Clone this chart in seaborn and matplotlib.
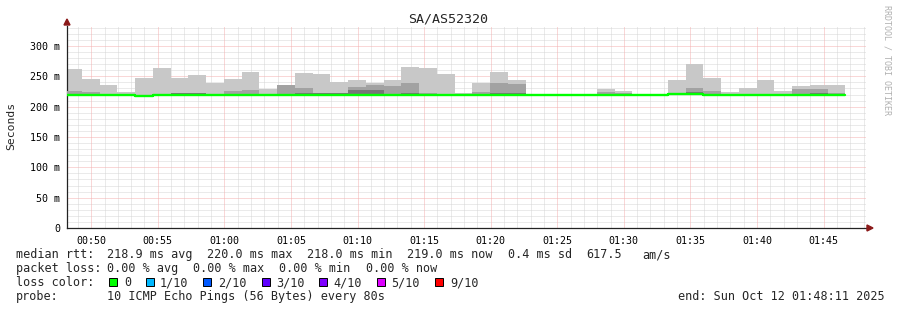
import numpy as np
import pandas as pd
import matplotlib
matplotlib.use("Agg")
import matplotlib.pyplot as plt
from matplotlib.patches import Rectangle
import seaborn as sns

# ---------------- data ----------------
title = "SA/AS52320"
bar_starts = ["00:47:58", "00:49:18", "00:50:38", "00:51:58", "00:53:18", "00:54:38",
              "00:55:58", "00:57:18", "00:58:38", "00:59:58", "01:01:18", "01:02:38",
              "01:03:58", "01:05:18", "01:06:38", "01:07:58", "01:09:18", "01:10:38",
              "01:11:58", "01:13:18", "01:14:38", "01:15:58", "01:17:18", "01:18:38",
              "01:19:58", "01:21:18", "01:22:38", "01:23:58", "01:25:18", "01:26:38",
              "01:27:58", "01:29:18", "01:30:38", "01:31:58", "01:33:18", "01:34:38",
              "01:35:58", "01:37:18", "01:38:38", "01:39:58", "01:41:18", "01:42:38",
              "01:43:58", "01:45:18"]
step_seconds = 80
# values in ms
median_rtt = [219, 219, 219, 219, 217.3, 219, 219, 219, 219, 219, 219, 219,
              219, 219, 219, 219, 219, 219, 219, 219, 219, 219, 219, 219,
              219, 219, 219, 219, 219, 219, 219, 219, 219, 219, 220.7, 220.7,
              219, 219, 219, 219, 219, 219, 219, 219]
smoke_min = [218, 218, 218, 218, 216, 218, 218, 218, 218, 218, 218, 218,
             218, 218, 218, 218, 218, 218, 218, 218, 218, 218, 218, 218,
             218, 218, 218, 218, 218, 218, 218, 218, 218, 218, 219.5, 219.5,
             218, 218, 218, 218, 218, 218, 218, 218]
smoke_max = [262, 245.6, 235.7, 224.7, 247.8, 263, 247.8, 252, 239, 245.6, 257.7, 229.6,
             235.7, 256, 253.8, 241, 244, 239, 244, 265, 263.7, 253.8, 222, 239,
             257.7, 244, 219.5, 219.5, 219.5, 219.5, 228.6, 226.3, 219.5, 219.5, 244, 270,
             247.8, 224.7, 231, 244, 226, 234, 235.7, 235.7]
smoke_mid = [226, 224.7, 219, 219, 217, 219, 223, 223, 219, 225.8, 228, 219,
             235.7, 231, 223, 223, 232.4, 235.7, 234, 239, 223, 219, 219, 225,
             239, 237, 219, 219, 219, 219, 224, 223, 219, 219, 223, 230.7,
             226, 219, 219, 219, 219, 228.5, 228.5, 223]
smoke_inner = [219, 219, 219, 219, 217, 219, 222, 222, 219, 219, 219, 219,
               219, 222, 222.5, 222.5, 227, 228, 219, 222.5, 219, 219, 219, 219,
               223, 223, 219, 219, 219, 219, 219, 219, 219, 219, 219, 224,
               219, 219, 219, 219, 219, 219, 223, 219]

y_ticks = [0, 50, 100, 150, 200, 250, 300]
y_tick_labels = ["0", "50 m", "100 m", "150 m", "200 m", "250 m", "300 m"]
x_tick_labels = ["00:50", "00:55", "01:00", "01:05", "01:10", "01:15",
                 "01:20", "01:25", "01:30", "01:35", "01:40", "01:45"]
view_start = "00:48:11"
view_end = "01:48:11"

legend_rtt = [("median rtt:", 16), ("218.9 ms avg", 107.3), ("220.0 ms max", 207.3),
              ("218.0 ms min", 307.3), ("219.0 ms now", 407.3), ("0.4 ms sd", 507.7),
              ("617.5", 586), ("am/s", 642.7)]
legend_loss = [("packet loss:", 16), ("0.00 % avg", 107.3), ("0.00 % max", 193.3),
               ("0.00 % min", 279.3), ("0.00 % now", 365.7)]
loss_labels = ["0", "1/10", "2/10", "3/10", "4/10", "5/10", "9/10"]
loss_colors = ["#00ff00", "#00b8ff", "#0059ff", "#5e00ff", "#7e00ff", "#dd00ff", "#ff0000"]
loss_box_x = [109, 146, 203, 261.5, 319, 376.5, 435]
loss_text_x = [124, 160, 218.3, 276, 333.3, 391, 450]
probe_text = "10 ICMP Echo Pings (56 Bytes) every 80s"
end_text = "end: Sun Oct 12 01:48:11 2025"
credit = "RRDTOOL / TOBI OETIKER"

# ---------------- helpers ----------------
def to_min(s):
    h, m, sec = [int(v) for v in s.split(":")]
    return h * 60 + m + sec / 60.0

W, H = 897, 310
def fx(x): return x / W
def fy(y): return 1 - y / H

df = pd.DataFrame({
    "t": [to_min(s) for s in bar_starts],
    "median": median_rtt, "smin": smoke_min, "smax": smoke_max,
    "smid": smoke_mid, "sinner": smoke_inner,
})
bw = step_seconds / 60.0

sns.set_style("white")
plt.rcParams["font.family"] = ["DejaVu Sans Mono", "DejaVu Sans"]

fig = plt.figure(figsize=(W / 100, H / 100), dpi=100)
fig.patch.set_facecolor("white")
ax = fig.add_axes([fx(67), fy(228), (866 - 67) / W, (228 - 26) / H])
ax.set_facecolor("white")

x0, x1 = to_min(view_start), to_min(view_end)
ax.set_xlim(x0, x1)
ax.set_ylim(0, 333)

# grid
minor_kw = dict(color="#d6d6d6", lw=0.72, ls=(0, (1, 1)), zorder=0)
major_kw = dict(color="#f4b0b0", lw=0.72, ls=(0, (1, 1)), zorder=0.5)
for v in np.arange(10, 333, 10):
    if v % 50:
        ax.axhline(v, **minor_kw)
for v in range(int(np.ceil(x0)), int(x1) + 1):
    if v % 5:
        ax.axvline(v, **minor_kw)
for v in y_ticks[1:]:
    ax.axhline(v, **major_kw)
x_major = [to_min(s + ":00") for s in x_tick_labels]
for v in x_major:
    ax.axvline(v, **major_kw)

# smoke
ax.bar(df["t"], df["smax"] - df["smin"], bottom=df["smin"], width=bw, align="edge",
       color="#c8c8c8", lw=0, zorder=2)
ax.bar(df["t"], df["smid"] - df["smin"], bottom=df["smin"], width=bw, align="edge",
       color="#a2a2a2", lw=0, zorder=3)
ax.bar(df["t"], df["sinner"] - df["smin"], bottom=df["smin"], width=bw, align="edge",
       color="#767676", lw=0, zorder=4)

# median (loss colour 0)
med = pd.concat([df[["t", "median"]],
                 pd.DataFrame({"t": [df["t"].iloc[-1] + bw], "median": [df["median"].iloc[-1]]})])
sns.lineplot(data=med, x="t", y="median", ax=ax, color="#00ff00", lw=1.7,
             drawstyle="steps-post", zorder=5, estimator=None)

# axes
ax.set_xlabel("")
ax.set_ylabel("")
for s in ["top", "right"]:
    ax.spines[s].set_visible(False)
for s in ["left", "bottom"]:
    ax.spines[s].set_color("#222222")
    ax.spines[s].set_linewidth(0.9)
ax.set_yticks(y_ticks)
ax.set_yticklabels(y_tick_labels)
ax.set_xticks(x_major)
ax.set_xticklabels(x_tick_labels)
ax.tick_params(axis="both", direction="out", length=2.2, width=0.8, color="#222222",
               labelsize=7.2, pad=2.5, labelcolor="#000000")
ax.tick_params(axis="x", pad=3.5)

# arrows
fig.patches.append(matplotlib.patches.Polygon(
    [(fx(64), fy(25)), (fx(70), fy(25)), (fx(67), fy(19))], closed=True,
    transform=fig.transFigure, color="#8b1a1a", zorder=10))
fig.patches.append(matplotlib.patches.Polygon(
    [(fx(867), fy(225)), (fx(867), fy(231)), (fx(873), fy(228))], closed=True,
    transform=fig.transFigure, color="#8b1a1a", zorder=10))
ax.plot([x1, x1 + 0.1], [0, 0], color="#222222", lw=0.9, clip_on=False)

# texts
fig.text(fx(448), fy(23), title, ha="center", va="baseline", fontsize=9.6)
fig.text(fx(11), fy(126), "Seconds", ha="center", va="center", rotation=90, fontsize=8.2)
fig.text(fx(887), fy(5), credit, ha="center", va="top", rotation=-90, fontsize=6,
         color="#b0b0b0")

fs = 8.45
for txt, x in legend_rtt:
    fig.text(fx(x), fy(258.3), txt, ha="left", va="baseline", fontsize=fs)
for txt, x in legend_loss:
    fig.text(fx(x), fy(272.3), txt, ha="left", va="baseline", fontsize=fs)
fig.text(fx(16), fy(286.3), "loss color:", ha="left", va="baseline", fontsize=fs)
for lab, col, bx, tx in zip(loss_labels, loss_colors, loss_box_x, loss_text_x):
    fig.patches.append(Rectangle((fx(bx), fy(286)), 8 / W, 8 / H, transform=fig.transFigure,
                                 facecolor=col, edgecolor="#000000", lw=0.7))
    fig.text(fx(tx), fy(286.3), lab, ha="left", va="baseline", fontsize=fs)
fig.text(fx(16), fy(300.3), "probe:", ha="left", va="baseline", fontsize=fs)
fig.text(fx(107.3), fy(300.3), probe_text, ha="left", va="baseline", fontsize=fs)
fig.text(fx(678.3), fy(300.3), end_text, ha="left", va="baseline", fontsize=fs)

fig.savefig("out.png", dpi=100, facecolor="white")
